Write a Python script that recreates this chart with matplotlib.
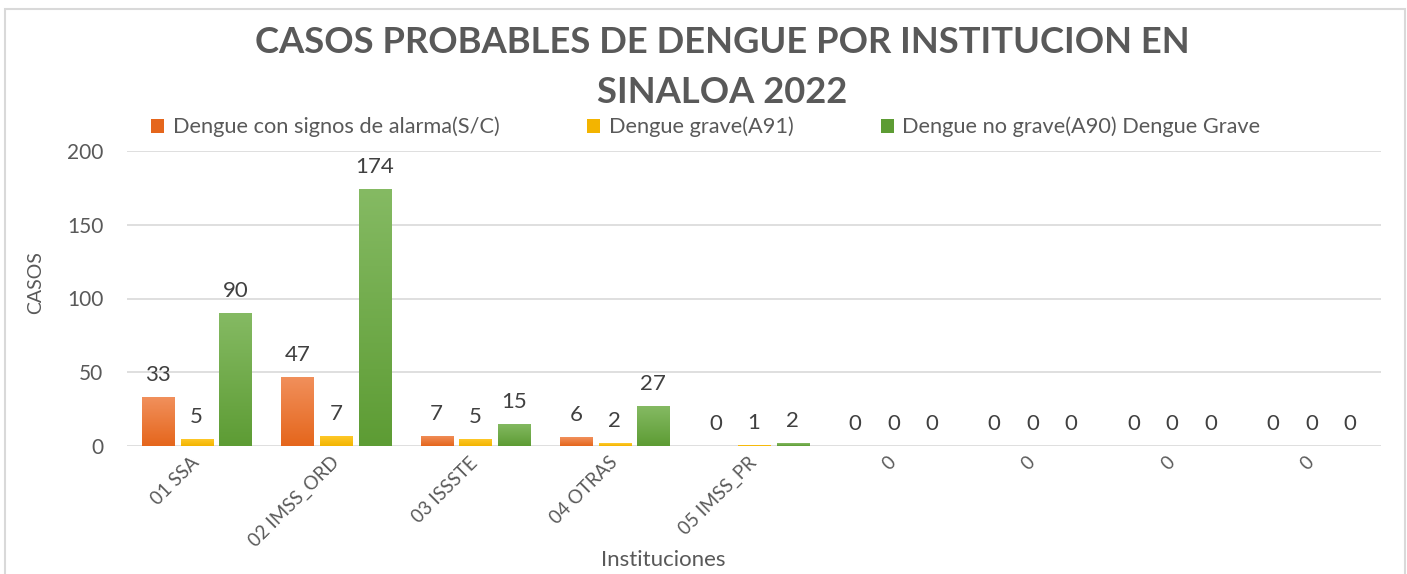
import numpy as np
import matplotlib.pyplot as plt
from matplotlib.colors import LinearSegmentedColormap
from matplotlib.patches import Patch, Rectangle

instituciones = ['01 SSA', '02 IMSS_ORD', '03 ISSSTE', '04 OTRAS', '05 IMSS_PR', '0', '0', '0', '0']
signos_alarma = [33, 47, 7, 6, 0, 0, 0, 0, 0]
dengue_grave = [5, 7, 5, 2, 1, 0, 0, 0, 0]
no_grave = [90, 174, 15, 27, 2, 0, 0, 0, 0]
series_names = ['Dengue con signos de alarma(S/C)', 'Dengue grave(A91)',
                'Dengue no grave(A90) Dengue Grave']

# (bottom, top) colours of the gradient fill
grad_colors = [('#E5661C', '#F1905C'), ('#F3B400', '#FFCB2E'), ('#5D9C34', '#85BA63')]
text_grey = '#595959'

plt.rcParams['font.family'] = ['Lato', 'DejaVu Sans']

W, H = 1407, 574
fig = plt.figure(figsize=(W / 100, H / 100), dpi=100)
ax = fig.add_axes([127 / W, 128 / H, 1254 / W, 295 / H])

x = np.arange(len(instituciones))
width = 0.23
step = 0.277
grad = np.linspace(0, 1, 256).reshape(-1, 1)

for i, (vals, (c0, c1)) in enumerate(zip([signos_alarma, dengue_grave, no_grave], grad_colors)):
    cmap = LinearSegmentedColormap.from_list(f'g{i}', [c0, c1])
    bars = ax.bar(x + (i - 1) * step, vals, width, color=c1, zorder=2)
    for b, v in zip(bars, vals):
        if v > 0:
            x0 = b.get_x()
            im = ax.imshow(grad, extent=[x0, x0 + width, 0, v], origin='lower',
                           aspect='auto', cmap=cmap, zorder=3)
            im.set_clip_path(b)
        ax.annotate(str(v), (b.get_x() + width / 2, v), xytext=(0, 11.5),
                    textcoords='offset points', ha='center', va='baseline',
                    fontsize=16, color='#404040')

ax.set_xlim(-0.5, len(instituciones) - 0.5)
ax.set_ylim(0, 200)
ax.set_yticks([0, 50, 100, 150, 200])
ax.set_xticks(x)
ax.set_xticklabels(instituciones, rotation=45, ha='right', va='center',
                   rotation_mode='anchor', fontsize=13.5, color=text_grey)
ax.tick_params(axis='x', length=0, pad=10)
ax.tick_params(axis='y', length=0, pad=17, labelsize=15, labelcolor=text_grey)
ax.grid(axis='y', color='#D9D9D9', lw=1.2, zorder=0)
for s in ax.spines.values():
    s.set_visible(False)

fig.text(722 / W, 1 - 53 / H, 'CASOS PROBABLES DE DENGUE POR INSTITUCION EN',
         ha='center', va='baseline', fontsize=26.2, fontweight='bold', color=text_grey)
fig.text(722 / W, 1 - 103 / H, 'SINALOA 2022',
         ha='center', va='baseline', fontsize=26.2, fontweight='bold', color=text_grey)

fig.text(36 / W, 1 - 283 / H, 'CASOS', rotation=90, ha='center', va='center',
         fontsize=14, color=text_grey)
fig.text(663 / W, 1 - 560 / H, 'Instituciones', ha='center', va='center',
         fontsize=16, color=text_grey)

handles = [Patch(facecolor=c[0], edgecolor='none') for c in grad_colors]
fig.legend(handles, series_names, loc='center left', ncol=3,
           bbox_to_anchor=(151 / W, 1 - 127 / H), frameon=False, borderpad=0,
           borderaxespad=0, handlelength=0.6, handleheight=0.6, handletextpad=0.4,
           columnspacing=4.0, prop={'size': 15.7}, labelcolor=text_grey)

fig.add_artist(Rectangle((5 / W, -0.05), 1400 / W, 1.05 - 9 / H, transform=fig.transFigure,
                         fill=False, edgecolor='#D9D9D9', lw=1.5))

fig.savefig('out.png', dpi=100)
